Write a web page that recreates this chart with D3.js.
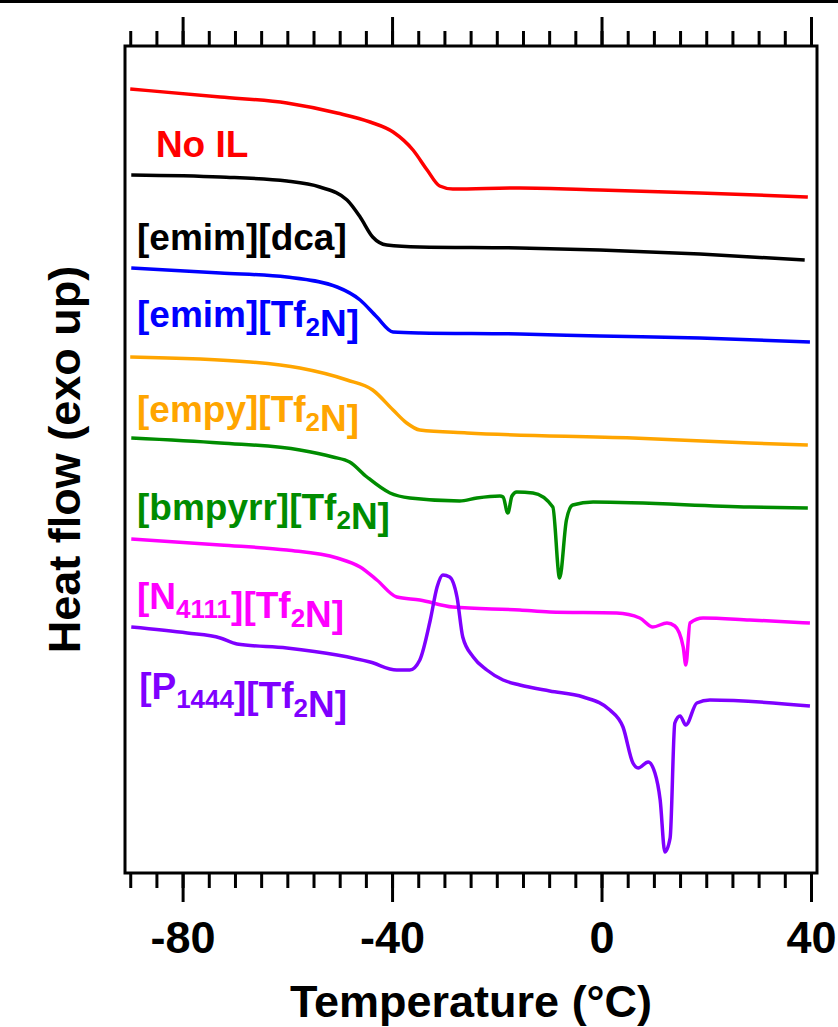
<!DOCTYPE html>
<html>
<head>
<meta charset="utf-8">
<script src="https://cdn.jsdelivr.net/npm/d3@7"></script>
<style>
body{margin:0;background:#fff;}
text{font-family:"Liberation Sans",Arial,sans-serif;font-weight:bold;}
</style>
</head>
<body>
<svg id="dsc"></svg>
<script>
//temperature (C) and heat flow (arb. units, stacked with offsets)
var noILT = [-90,-72.8,-60.1,-50.5,-44.2,-39.8,-36.0,-33.3,-30.9,-28.4,-15.6,-0.3,18.8,39.4];
var noILHF = [78.4,77.6,77.0,76.0,75.1,74.1,72.3,70.3,68.7,68.4,68.5,68.3,68.0,67.6];

var dcaT = [-89.8,-72.8,-60.1,-53.8,-48.6,-46.1,-43.7,-41.0,-34.7,-15.6,-0.3,18.8,38.8];
var dcaHF = [69.8,69.6,69.2,68.6,67.3,65.6,63.6,62.8,62.6,62.5,62.3,61.9,61.3];

var emimT = [-89.8,-72.8,-60.1,-50.5,-46.1,-42.9,-39.8,-34.7,-15.6,-0.3,18.8,39.8];
var emimHF = [60.5,60.0,59.6,58.6,57.3,55.6,54.1,54.0,53.9,53.7,53.5,53.1];

var empyT = [-90,-67.1,-57.6,-48.6,-43.7,-39.8,-37.2,-34.7,-25.7,6.0,28.3,39.4];
var empyHF = [51.6,51.1,50.5,49.3,48.3,46.3,45.0,44.3,44.0,43.5,43.0,42.8];

var bmpyrrT = [-89.8,-72.8,-57.6,-51.3,-48.1,-44.8,-40.4,-36.6,-27.1,-23.8,-19.4,-18.8,-17.9,-17.1,-16.2,-13.1,-9.3,-8.0,-6.7,-5.5,-1.6,28.3,39.4];
var bmpyrrHF = [43.5,43.0,42.3,41.6,41.1,39.6,38.0,37.5,37.2,37.5,37.7,37.6,36.0,37.7,38.1,38.0,36.6,29.5,35.3,36.8,37.1,36.6,36.5];

var n4111T = [-89.8,-72.8,-60.1,-50.5,-46.1,-42.9,-39.1,-34.7,-28.4,-15.6,-9.9,2.9,7.3,9.8,12.5,14.0,15.6,16.1,16.9,19.4,28.3,39.8];
var n4111HF = [33.4,32.8,32.3,31.5,30.6,29.3,27.6,27.3,26.6,26.3,26.1,26.0,25.5,24.6,25.0,24.7,22.6,20.8,25.0,25.5,25.3,25.0];

var p1444T = [-89.8,-79.1,-72.8,-69.6,-60.1,-50.5,-44.2,-39.1,-36.6,-34.7,-32.7,-31.4,-30.3,-29.0,-27.6,-26.5,-24.5,-21.9,-18.8,-15.6,-9.9,-3.5,1.6,4.1,6.0,7.0,8.9,10.2,11.2,12.1,13.1,14.0,15.0,16.1,18.2,20.7,39.8];
var p1444HF = [24.6,24.0,23.5,22.9,22.5,21.8,21.1,20.3,20.3,21.3,25.3,28.6,29.8,29.6,27.6,23.6,21.6,20.3,19.3,18.8,18.2,17.6,16.3,14.6,11.0,10.5,11.1,10.0,7.3,2.1,3.5,15.0,15.7,14.8,17.0,17.3,16.7];

var seriesNames = ["No IL","[emim][dca]","[emim][Tf2N]","[empy][Tf2N]","[bmpyrr][Tf2N]","[N4111][Tf2N]","[P1444][Tf2N]"];
var seriesColors = ["#ff0000","#000000","#0000ff","#ffa500","#008c00","#ff00ff","#7f00ff"];
var seriesT = [noILT,dcaT,emimT,empyT,bmpyrrT,n4111T,p1444T];
var seriesHF = [noILHF,dcaHF,emimHF,empyHF,bmpyrrHF,n4111HF,p1444HF];

//label text pieces: [text, subscript?]
var labelParts = [
    [["No IL",false]],
    [["[emim][dca]",false]],
    [["[emim][Tf",false],["2",true],["N]",false]],
    [["[empy][Tf",false],["2",true],["N]",false]],
    [["[bmpyrr][Tf",false],["2",true],["N]",false]],
    [["[N",false],["4111",true],["][Tf",false],["2",true],["N]",false]],
    [["[P",false],["1444",true],["][Tf",false],["2",true],["N]",false]]
];
//where each label sits, in data units (temperature, heat flow)
var labelT = [-85.1,-88.7,-88.7,-88.7,-88.7,-88.7,-88.3];
var labelHF = [71.6,62.3,54.6,45.1,35.3,26.4,17.4];

var majorTicks = [-80,-40,0,40];
var minorTicks = d3.range(-90,41,5);

var screen = {width:838,height:1027};
var box = {left:125,right:817,top:46,bottom:873};

var svg = d3.select("#dsc")
    .attr("width",screen.width)
    .attr("height",screen.height);

var xScale = d3.scaleLinear()
    .domain([-91,41.15])
    .range([box.left,box.right]);

var yScale = d3.scaleLinear()
    .domain([0,82.7])
    .range([box.bottom,box.top]);

//line across the very top of the picture
svg.append("rect")
    .attr("x",0).attr("y",0)
    .attr("width",screen.width).attr("height",3)
    .attr("fill","#000");

//ticks on top and bottom
var drawTicks = function(axisFn,y,values,size,labels)
{
    var axis = axisFn(xScale)
        .tickValues(values)
        .tickSize(size)
        .tickSizeOuter(0)
        .tickFormat(labels ? function(d){return String(d);} : "");
    var g = svg.append("g")
        .attr("transform","translate(0,"+y+")")
        .call(axis);
    g.select(".domain").remove();
    g.selectAll(".tick line")
        .attr("stroke","#000")
        .attr("stroke-width",3);
    return g;
}

drawTicks(d3.axisTop,box.top,minorTicks,15,false);
drawTicks(d3.axisTop,box.top,majorTicks,29,false);
drawTicks(d3.axisBottom,box.bottom,minorTicks,15,false);
var bottomMajor = drawTicks(d3.axisBottom,box.bottom,majorTicks,29,true);
bottomMajor.selectAll(".tick text")
    .attr("y",80)
    .attr("dy",0)
    .attr("fill","#000")
    .style("font-size","45px")
    .style("font-family","'Liberation Sans',Arial,sans-serif")
    .style("font-weight","bold");

//frame
svg.append("rect")
    .attr("x",box.left).attr("y",box.top)
    .attr("width",box.right-box.left)
    .attr("height",box.bottom-box.top)
    .attr("fill","none")
    .attr("stroke","#000")
    .attr("stroke-width",3);

//curves
var line = d3.line()
    .x(function(d){return xScale(d[0]);})
    .y(function(d){return yScale(d[1]);})
    .curve(d3.curveMonotoneX);

seriesT.forEach(function(ts,i)
{
    var pts = ts.map(function(t,j){return [t,seriesHF[i][j]];});
    svg.append("path")
        .datum(pts)
        .attr("d",line)
        .attr("fill","none")
        .attr("stroke",seriesColors[i])
        .attr("stroke-width",3.5)
        .attr("stroke-linejoin","round");
});

//series labels
labelParts.forEach(function(parts,i)
{
    var t = svg.append("text")
        .attr("x",xScale(labelT[i]))
        .attr("y",yScale(labelHF[i]))
        .attr("fill",seriesColors[i])
        .style("font-size","37px");
    parts.forEach(function(p)
    {
        t.append("tspan")
            .text(p[0])
            .style("font-size",p[1] ? "26px" : "37px")
            .attr("dy",p[1] ? 9 : 0);
        if(p[1])
        {
            t.append("tspan").attr("dy",-9).text("");
        }
    });
});

//axis titles
svg.append("text")
    .attr("x",(box.left+box.right)/2)
    .attr("y",1017)
    .attr("text-anchor","middle")
    .style("font-size","45px")
    .text("Temperature (°C)");

svg.append("text")
    .attr("transform","translate(80,"+((box.top+box.bottom)/2)+") rotate(-90)")
    .attr("text-anchor","middle")
    .style("font-size","45px")
    .text("Heat flow (exo up)");
</script>
</body>
</html>
